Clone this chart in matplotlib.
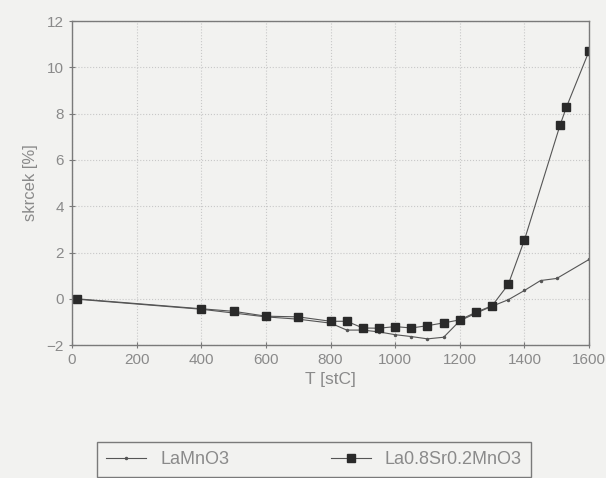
import matplotlib.pyplot as plt

plt.rcParams['font.family'] = ['Liberation Sans', 'DejaVu Sans']

# LaMnO3
t_la = [0, 400, 600, 700, 800, 850, 900, 950, 1000, 1050, 1100, 1150, 1200,
        1250, 1300, 1350, 1400, 1450, 1500, 1600]
s_la = [0.0, -0.45, -0.78, -0.88, -1.05, -1.35, -1.35, -1.43, -1.55, -1.63,
        -1.73, -1.66, -0.95, -0.62, -0.32, -0.04, 0.36, 0.79, 0.88, 1.70]

# La0.8Sr0.2MnO3
t_sr = [15, 400, 500, 600, 700, 800, 850, 900, 950, 1000, 1050, 1100, 1150,
        1200, 1250, 1300, 1350, 1400, 1510, 1530, 1600]
s_sr = [0.0, -0.43, -0.54, -0.75, -0.78, -0.97, -0.97, -1.26, -1.27, -1.2,
        -1.26, -1.16, -1.04, -0.91, -0.58, -0.30, 0.62, 2.54, 7.49, 8.28, 10.7]

bg = '#f2f2f0'
grey = '#7a7a7a'
txt = '#8a8a8a'

fig = plt.figure(figsize=(6.06, 4.78), dpi=100, facecolor=bg)
ax = fig.add_axes([0.119, 0.278, 0.853, 0.678])
ax.set_facecolor(bg)

ax.plot(t_la, s_la, color='#555555', lw=0.8, marker='.', ms=3, label='LaMnO3')
ax.plot(t_sr, s_sr, color='#555555', lw=0.8, marker='s', ms=5.5,
        markerfacecolor='#2a2a2a', markeredgecolor='#2a2a2a', label='La0.8Sr0.2MnO3')

ax.set_xlim(0, 1600)
ax.set_ylim(-2, 12)
ax.set_xticks(range(0, 1601, 200))
ax.set_yticks(range(-2, 13, 2))
ax.grid(True, color='#c8c8c8', linestyle=':', linewidth=0.8)
for sp in ax.spines.values():
    sp.set_color(grey)
    sp.set_linewidth(1.0)
ax.tick_params(direction='inout', length=5, width=0.8, color=grey,
               labelcolor=txt, labelsize=11)

ax.set_xlabel('T [stC]', color=txt, fontsize=12.5, labelpad=3)
ax.set_ylabel('skrcek [%]', color=txt, fontsize=12, labelpad=6)

# legend box sits at the bottom edge, partly cut off like in the scan
leg = fig.legend(loc='upper left',
                 bbox_to_anchor=(97 / 606, 0, 434 / 606, 1 - 442 / 478),
                 mode='expand', ncol=2, frameon=True, fancybox=False,
                 edgecolor=grey, facecolor=bg, framealpha=1, fontsize=13,
                 handlelength=2.2, borderpad=0.5, borderaxespad=0)
for t in leg.get_texts():
    t.set_color(txt)

fig.savefig('out.png', dpi=100, facecolor=bg)
